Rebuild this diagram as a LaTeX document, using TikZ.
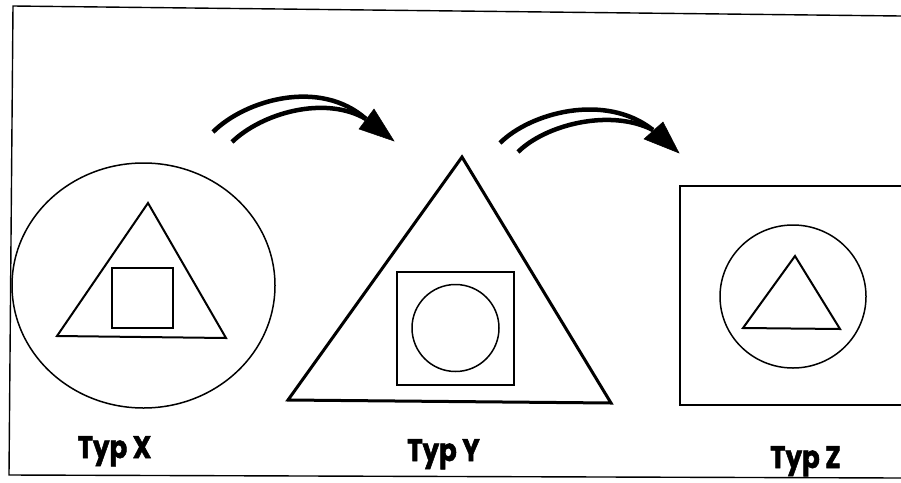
\documentclass[tikz,border=0pt]{standalone}
\usepackage{fontspec}
\setmainfont{Poppins}
\newfontfamily\lblfont{Poppins}[FakeStretch=0.84, FakeBold=1.6]
\begin{document}
\begin{tikzpicture}[x=1pt,y=-1pt,
  frame/.style={line width=1.4pt, draw=black},
  thin/.style={line width=1.5pt, draw=black},
  mid/.style={line width=2pt, draw=black},
  thick/.style={line width=3pt, draw=black, line join=miter},
  stroke/.style={line width=4.5pt, draw=black},
  head/.style={fill=black, draw=black, line width=0.5pt},
  lbl/.style={font=\lblfont\fontsize{31}{31}\selectfont\bfseries, anchor=base, inner sep=0pt}]
\useasboundingbox (0,0) rectangle (901,482);
% frame
\draw[frame] (901,16) -- (13,6) -- (9,475) -- (901,478);
% Typ X
\draw[thin] (143.5,285.5) ellipse [x radius=131.5, y radius=122.5];
\draw[mid] (148,203) -- (57,336) -- (226,338) -- cycle;
\draw[mid] (112,268) rectangle (173,328);
% Typ Y
\draw[thick] (462,157) -- (288,400) -- (611,403) -- cycle;
\draw[thin] (397,272) rectangle (514,385);
\draw[thin] (455.5,328) circle [radius=43.5];
% Typ Z
\draw[frame] (904,186) -- (680,186) -- (680,405) -- (904,405);
\draw[thin] (793,296.5) ellipse [x radius=73, y radius=71.5];
\draw[mid] (795,256) -- (743,328) -- (840,329) -- cycle;
% arrows
\coordinate (a1o) at (213,132);
\coordinate (a1i) at (232,142);
\coordinate (a1b) at (366,119);
\coordinate (a1t) at (394,141);
\draw[stroke] (a1o) .. controls (245,100) and (320,78) .. (a1b);
\draw[stroke] (a1i) .. controls (262,113) and (325,95) .. (a1b);
\fill[head] (a1t) -- (374,109) -- (359,129) -- cycle;
\coordinate (a2o) at (500,143);
\coordinate (a2i) at (518,152);
\coordinate (a2b) at (653,130);
\coordinate (a2t) at (679,153);
\draw[stroke] (a2o) .. controls (530,113) and (605,92) .. (a2b);
\draw[stroke] (a2i) .. controls (545,125) and (610,108) .. (a2b);
\fill[head] (a2t) -- (663,122) -- (644,139) -- cycle;
% labels
\node[lbl] (tx) at (114.5,458) {Typ X};
\node[lbl] (ty) at (443.5,461) {Typ Y};
\node[lbl] (tz) at (805.5,468) {Typ Z};
\end{tikzpicture}
\end{document}
